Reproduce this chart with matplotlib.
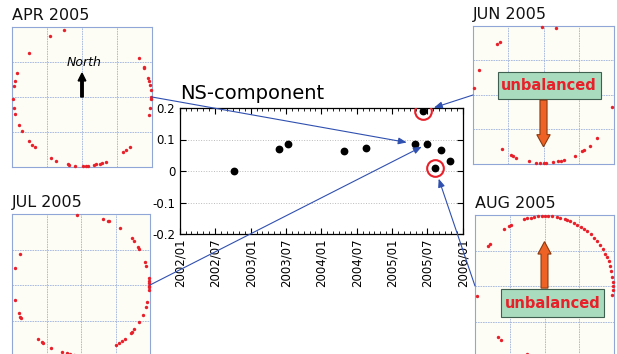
import numpy as np
import pandas as pd
import matplotlib
matplotlib.use('Agg')
import matplotlib.pyplot as plt
import matplotlib.dates as mdates
from matplotlib.patches import Rectangle, FancyArrow, ConnectionPatch

# NS-component time series
obs_dates = ['2002-10-08', '2003-05-25', '2003-07-10', '2004-04-28', '2004-08-20',
             '2005-04-28', '2005-06-10', '2005-06-28', '2005-08-10', '2005-09-12',
             '2005-10-28']
ns_values = [0.000, 0.069, 0.087, 0.062, 0.073, 0.086, 0.190, 0.085, 0.009, 0.066, 0.033]
circled = [6, 8]
tick_dates = ['2002-01-01', '2002-07-01', '2003-01-01', '2003-07-01', '2004-01-01',
              '2004-07-01', '2005-01-01', '2005-07-01', '2006-01-01']
tick_labels = ['2002/01', '2002/07', '2003/01', '2003/07', '2004/01',
               '2004/07', '2005/01', '2005/07', '2006/01']
y_ticks = [-0.2, -0.1, 0, 0.1, 0.2]
y_labels = ['-0.2', '-0.1', '0', '0.1', '0.2']

# angle (deg) of each red dot on the monthly panels
apr_angles = [105, 118, 140, 160, 167, 171, 182, 189, 194, 204, 210, 220, 224, 227,
              243, 248, 258, 259, 264, 271, 273, 275, 280, 282, 285, 287, 290,
              307, 310, 314, 345, 351, 358, 0, 6, 10, 13, 16, 25, 26, 34]
jun_angles = [91, 80, 132, 129, 158, 174, 350, 321, 312, 306, 304, 297, 287, 285,
              282, 278, 272, 270, 267, 264, 258, 247, 244, 242, 233]
jul_angles = [93, 71, 67, 66, 55, 42, 39, 33, 31, 19, 16, 6, 3, 2, -1, -2, -4,
              346, 342, 335, 328, 321, 318, 317, 310, 307, 304, 301,
              264, 261, 258, 254, 244, 236, 235, 231, 208, 207, 204, 192, 166, 154]
aug_angles = [107.5, 104.6, 101.8, 99, 95.8, 92.2, 89.5, 86.7, 84, 79.8, 76.9, 72.6,
              71, 68, 64.8, 61.4, 58.1, 54.7, 51.2, 47.6, 43.6, 39.6, 35.7, 31.7,
              27.6, 24.4, 20.6, 16.9, 12.6, 7, 3, 0, -3, -7,
              121, 119.4, 126, 143, 145, 188, 227, 231, 255]
ring_r = 1.97

W, H = 617, 354
fig = plt.figure(figsize=(W / 100, H / 100), dpi=100)
fig.patch.set_facecolor('white')


def px_axes(x0, y0, x1, y1):
    return fig.add_axes([x0 / W, 1 - y1 / H, (x1 - x0) / W, (y1 - y0) / H])


def panel(x0, y0, x1, y1, title, angles):
    a = px_axes(x0, y0, x1, y1)
    a.set_xlim(-2, 2)
    a.set_ylim(-2, 2)
    a.set_facecolor('#fdfdf6')
    for v in (-1, 0, 1):
        a.axvline(v, color='#9fb2dc', lw=0.6, ls=(0, (2, 1)))
        a.axhline(v, color='#9fb2dc', lw=0.6, ls=(0, (2, 1)))
    th = np.deg2rad(angles)
    a.scatter(ring_r * np.cos(th), ring_r * np.sin(th), s=6, color='#e8202a',
              zorder=3, clip_on=False, linewidths=0)
    a.set_xticks([])
    a.set_yticks([])
    for s in a.spines.values():
        s.set_color('#8fa6d6')
        s.set_linewidth(0.8)
    fig.text(x0 / W, 1 - (y0 - 4) / H, title, fontsize=11.5, ha='left', va='bottom',
             color='#111111')
    return a


def unbalanced(a, x0, x1, y0, y1, ay0, ay1):
    a.add_patch(Rectangle((x0, y0), x1 - x0, y1 - y0, facecolor='#a9dbbf',
                          edgecolor='#3f5f50', lw=0.8, zorder=4))
    a.text((x0 + x1) / 2, (y0 + y1) / 2, 'unbalanced', color='#e8202a',
           fontsize=10.5, fontweight='bold', ha='center', va='center', zorder=5)
    a.add_patch(FancyArrow(0, ay0, 0, ay1 - ay0, width=0.2, head_width=0.38,
                           head_length=0.35, length_includes_head=True,
                           facecolor='#ee6325', edgecolor='#8a3a10', lw=0.8, zorder=4))


apr = panel(12, 27, 152, 167, 'APR 2005', apr_angles)
jun = panel(473, 26, 614, 164, 'JUN 2005', jun_angles)
jul = panel(12, 214, 150, 356, 'JUL 2005', jul_angles)
aug = panel(475, 215, 614, 357, 'AUG 2005', aug_angles)

apr.add_patch(FancyArrow(0, 0, 0, 0.68, width=0.07, head_width=0.22, head_length=0.22,
                         length_includes_head=True, color='black', zorder=4))
apr.text(0.05, 0.98, 'North', fontsize=9, style='italic', ha='center', va='center')

unbalanced(jun, -1.3, 1.62, -0.12, 0.67, -0.15, -1.5)
unbalanced(aug, -1.25, 1.70, -0.87, -0.09, -0.06, 1.25)

# main chart
ax = px_axes(180, 108, 463, 234)
dts = pd.to_datetime(obs_dates)
ax.plot(dts, ns_values, 'o', color='black', ms=4.6, zorder=3)
ax.plot(dts[circled], np.array(ns_values)[circled], 'o', mfc='none', mec='#e8202a',
        mew=1.5, ms=12, zorder=4)
ax.set_xlim(pd.Timestamp('2002-01-01'), pd.Timestamp('2006-01-01'))
ax.set_ylim(-0.2, 0.2)
ax.set_xticks(pd.to_datetime(tick_dates))
ax.set_xticklabels(tick_labels, rotation=90, fontsize=8.5)
ax.xaxis.set_minor_locator(mdates.MonthLocator())
ax.set_yticks(y_ticks)
ax.set_yticklabels(y_labels, fontsize=8.5)
ax.tick_params(which='major', direction='in', top=True, right=True, length=4, width=0.8)
ax.tick_params(which='minor', direction='in', top=True, bottom=True, length=2, width=0.6)
for v in (-0.1, 0, 0.1):
    ax.axhline(v, color='#bbbbbb', lw=0.7, ls=':', zorder=1)
for s in ax.spines.values():
    s.set_linewidth(0.9)
fig.text(180 / W, 1 - 103 / H, 'NS-component', fontsize=14, ha='left', va='bottom')

# blue connector arrows from each month panel to its point
links = [(apr, (1.0, 0.5), 5, 6), (jun, (0.0, 0.5), 6, 8),
         (jul, (1.0, 0.5), 7, 4), (aug, (0.0, 0.5), 8, 8)]
for pa, frac, idx, shrink in links:
    cp = ConnectionPatch(xyA=frac, coordsA=pa.transAxes,
                         xyB=(mdates.date2num(dts[idx]), ns_values[idx]), coordsB=ax.transData,
                         arrowstyle='-|>,head_length=0.5,head_width=0.2', color='#3050b0',
                         lw=0.8, shrinkB=shrink, mutation_scale=10, zorder=10)
    fig.add_artist(cp)

fig.savefig('out.png', dpi=100)
